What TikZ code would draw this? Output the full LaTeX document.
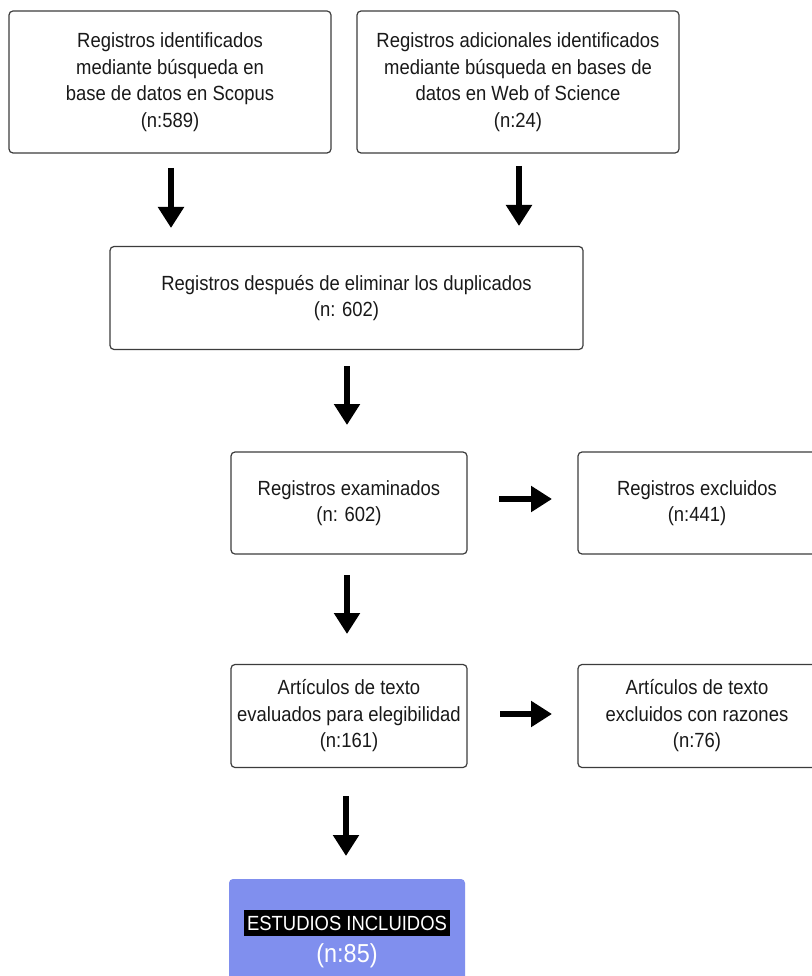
\documentclass[tikz,border=0pt]{standalone}
\usepackage{fontspec}
\setmainfont{Liberation Sans}
\newfontfamily\narrowfont[FakeStretch=0.9]{Liberation Sans}
\usetikzlibrary{arrows.meta}
\definecolor{boxline}{RGB}{60,60,60}
\definecolor{incl}{RGB}{128,143,238}
\tikzset{
  box/.style={draw=boxline, line width=1.2pt, rounded corners=4pt, inner sep=0pt,
    align=center, font=\narrowfont\fontsize{20.5}{26.5}\selectfont, text=black!90},
  bigarrow/.style={line width=6pt, -{Triangle[width=25pt,length=21pt]}},
}
\begin{document}
\begin{tikzpicture}[x=1pt,y=-1pt]
\useasboundingbox (0,0) rectangle (811,976);
\fill[white] (0,0) rectangle (811,976);
% boxes
\node[box, minimum width=322pt, minimum height=142pt] (b1) at (170,82)
  {Registros identificados\\mediante búsqueda en\\base de datos en Scopus\\(n:589)};
\node[box, minimum width=322pt, minimum height=142pt] (b2) at (518,82)
  {Registros adicionales identificados\\mediante búsqueda en bases de\\datos en Web of Science\\(n:24)};
\node[box, minimum width=473pt, minimum height=103pt] (b3) at (346.5,298)
  {Registros después de eliminar los duplicados\\(n: 602)};
\node[box, minimum width=236pt, minimum height=102pt] (b4) at (349,503)
  {Registros examinados\\(n: 602)};
\node[box, minimum width=238pt, minimum height=102pt] (b5) at (697,503)
  {Registros excluidos\\(n:441)};
\node[box, minimum width=236pt, minimum height=103pt] (b6) at (349,716)
  {Artículos de texto\\evaluados para elegibilidad\\(n:161)};
\node[box, minimum width=238pt, minimum height=103pt] (b7) at (697,716)
  {Artículos de texto\\excluidos con razones\\(n:76)};
\node[fill=incl, rounded corners=4pt, minimum width=236pt, minimum height=111pt, inner sep=0pt] (b8) at (347,934.5) {};
\node[fill=black, text=white, inner xsep=3pt, inner ysep=6pt, font=\narrowfont\fontsize{20.5}{24}\selectfont] (t8) at (347,923) {ESTUDIOS INCLUIDOS};
\node[text=white, inner sep=0pt, font=\narrowfont\fontsize{26}{30}\selectfont] (n8) at (347,956) {(n:85)};
% arrows
\coordinate (a1s) at (171,168); \coordinate (a1e) at (171,228);
\coordinate (a2s) at (519,166); \coordinate (a2e) at (519,226);
\coordinate (a3s) at (347,366); \coordinate (a3e) at (347,425);
\coordinate (a4s) at (347,575); \coordinate (a4e) at (347,634);
\coordinate (a5s) at (346,796); \coordinate (a5e) at (346,856);
\coordinate (r1s) at (499,499); \coordinate (r1e) at (552,499);
\coordinate (r2s) at (500,714); \coordinate (r2e) at (552,714);
\foreach \s/\e in {a1s/a1e,a2s/a2e,a3s/a3e,a4s/a4e,a5s/a5e,r1s/r1e,r2s/r2e}
  \draw[bigarrow] (\s) -- (\e);
\end{tikzpicture}
\end{document}
